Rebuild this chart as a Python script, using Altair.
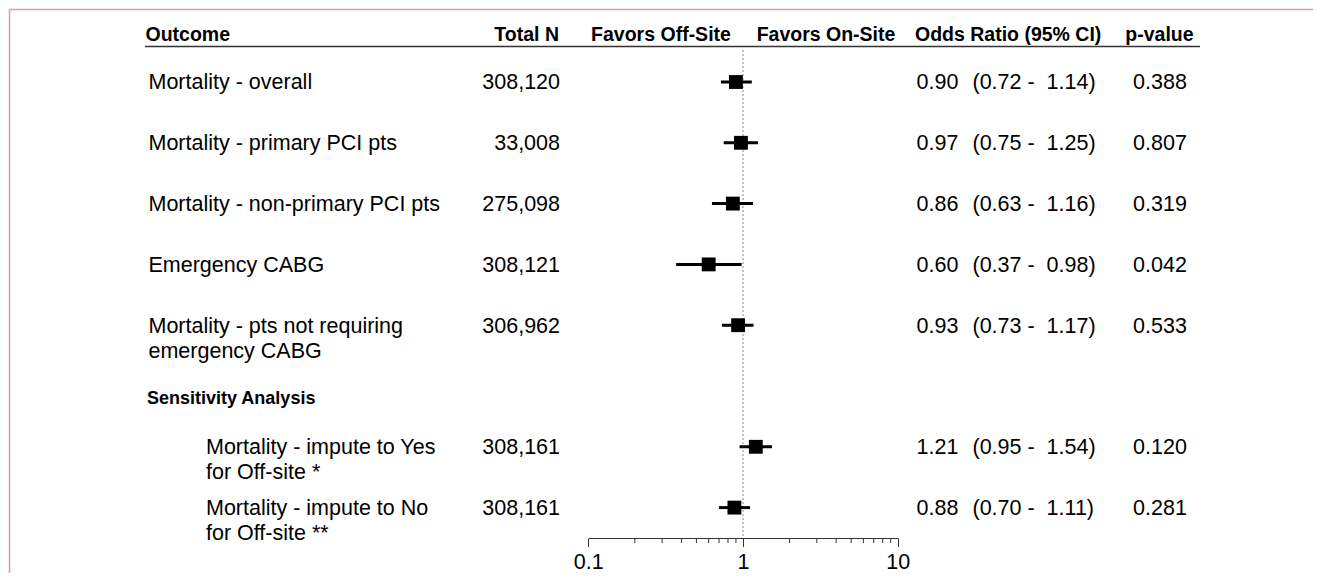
import altair as alt
import pandas as pd

# ---------------- data ----------------
outcomes = [
    "Mortality - overall",
    "Mortality - primary PCI pts",
    "Mortality - non-primary PCI pts",
    "Emergency CABG",
    "Mortality - pts not requiring\nemergency CABG",
    "Mortality - impute to Yes\nfor Off-site *",
    "Mortality - impute to No\nfor Off-site **",
]
row_pos = [0, 1, 2, 3, 4, 6, 7]
indented = [False, False, False, False, False, True, True]
total_n = ["308,120", "33,008", "275,098", "308,121", "306,962", "308,161", "308,161"]
odds_ratio = [0.90, 0.97, 0.86, 0.60, 0.93, 1.21, 0.88]
ci_low = [0.72, 0.75, 0.63, 0.37, 0.73, 0.95, 0.70]
ci_high = [1.14, 1.25, 1.16, 0.98, 1.17, 1.54, 1.11]
p_values = ["0.388", "0.807", "0.319", "0.042", "0.533", "0.120", "0.281"]

header_labels = ["Outcome", "Total N", "Favors Off-Site", "Favors On-Site",
                 "Odds Ratio (95% CI)", "p-value"]
section_label = ["Sensitivity Analysis"]
major_ticks = [0.1, 1, 10]
minor_ticks = [0.2, 0.3, 0.4, 0.5, 0.6, 0.7, 0.8, 0.9, 2, 3, 4, 5, 6, 7, 8, 9]
reference_value = [1]

# ---------------- frames ----------------
df = pd.DataFrame({
    "outcome": outcomes,
    "row": row_pos,
    "indented": indented,
    "n": total_n,
    "or": odds_ratio,
    "lo": ci_low,
    "hi": ci_high,
    "p": p_values,
})
df["or_text"] = [f"{v:.2f}" for v in odds_ratio]
df["ci_text"] = [f"({l:.2f} -\u00a0\u00a0{h:.2f})" for l, h in zip(ci_low, ci_high)]

ticks_df = pd.DataFrame({"tick": minor_ticks})
ref_df = pd.DataFrame({"ref": reference_value})

W, H = 1305, 530
FONT = "Liberation Sans"
BODY = 21.5

X_SCALE = alt.Scale(type="log", domain=[0.1, 10], range=[580.3, 889.7], nice=False)
Y_SCALE = alt.Scale(domain=[-1.2171, 7.5], reverse=True, nice=False, zero=False)
X_AXIS = alt.Axis(values=major_ticks, format="~g", title=None, grid=False,
                  labelFont=FONT, labelFontSize=BODY, labelColor="black",
                  tickSize=8.5, tickColor="#333", tickWidth=1,
                  domainColor="#333", domainWidth=1, labelPadding=5,
                  labelFlush=False, labelOverlap=False)


def xenc(field):
    return alt.X(f"{field}:Q", scale=X_SCALE, axis=X_AXIS)


def yenc():
    return alt.Y("row:Q", scale=Y_SCALE, axis=None)


base = alt.Chart(df)

# confidence intervals
ci = base.mark_rule(color="black", strokeWidth=3).encode(
    x=xenc("lo"), x2="hi:Q", y=yenc()
)
# point estimates
pts = base.mark_square(color="black", size=192, opacity=1).encode(
    x=xenc("or"), y=yenc()
)
# reference line at OR = 1
ref = alt.Chart(ref_df).mark_rule(color="#888", strokeWidth=1, strokeDash=[2, 2]).encode(
    x=xenc("ref"), y=alt.value(42), y2=alt.value(H)
)
# minor ticks
minor = alt.Chart(ticks_df).mark_rule(color="#333", strokeWidth=1).encode(
    x=xenc("tick"), y=alt.value(H), y2=alt.value(H + 5)
)

text_style = dict(font=FONT, fontSize=BODY, color="black", baseline="alphabetic",
                  dy=7.5, lineBreak="\n", lineHeight=25)

outcome_main = base.transform_filter("!datum.indented").mark_text(
    align="left", **text_style).encode(x=alt.value(140.5), y=yenc(), text="outcome:N")
outcome_ind = base.transform_filter("datum.indented").mark_text(
    align="left", **text_style).encode(x=alt.value(198), y=yenc(), text="outcome:N")
n_text = base.mark_text(align="right", **text_style).encode(
    x=alt.value(552), y=yenc(), text="n:N")
or_text = base.mark_text(align="left", **text_style).encode(
    x=alt.value(908.5), y=yenc(), text="or_text:N")
ci_text = base.mark_text(align="left", **text_style).encode(
    x=alt.value(964.5), y=yenc(), text="ci_text:N")
p_text = base.mark_text(align="center", **text_style).encode(
    x=alt.value(1152), y=yenc(), text="p:N")

# headers
header_layout = [(137.5, "left"), (551, "right"), (653, "center"), (818, "center"),
                 (907, "left"), (1151.5, "center")]
headers = []
for lab, (xp, al) in zip(header_labels, header_layout):
    headers.append(
        alt.Chart(pd.DataFrame({"label": [lab]})).mark_text(
            font=FONT, fontSize=19.5, fontWeight="bold", color="black",
            align=al, baseline="alphabetic"
        ).encode(x=alt.value(xp), y=alt.value(32.7), text="label:N")
    )
underline = alt.Chart(pd.DataFrame({"label": header_labels[:1]})).mark_rule(
    color="#333", strokeWidth=1.5).encode(
    x=alt.value(137), x2=alt.value(1192), y=alt.value(38.5))

section = alt.Chart(pd.DataFrame({"label": section_label})).mark_text(
    font=FONT, fontSize=18, fontWeight="bold", color="black",
    align="left", baseline="alphabetic"
).encode(x=alt.value(139), y=alt.value(396), text="label:N")

# pink frame (top and left edges of the figure box)
frame_top = alt.Chart(pd.DataFrame({"label": ["frame"]})).mark_rule(
    color="#d49aae", strokeWidth=1.5).encode(
    x=alt.value(1.5), x2=alt.value(W + 2), y=alt.value(1.5))
frame_left = alt.Chart(pd.DataFrame({"label": ["frame"]})).mark_rule(
    color="#d49aae", strokeWidth=1.5).encode(
    x=alt.value(1.5), y=alt.value(1.5), y2=alt.value(H + 40))

chart = alt.layer(
    frame_top, frame_left, underline, ref, minor, ci, pts,
    outcome_main, outcome_ind, n_text, or_text, ci_text, p_text, section,
    *headers
).properties(
    width=W, height=H,
    autosize=alt.AutoSizeParams(type="none"),
    padding={"left": 0, "top": 0, "right": 0, "bottom": 35},
    background="white",
).configure_view(strokeWidth=0)

chart.save("out.html", embed_options={"renderer": "svg", "actions": False})
